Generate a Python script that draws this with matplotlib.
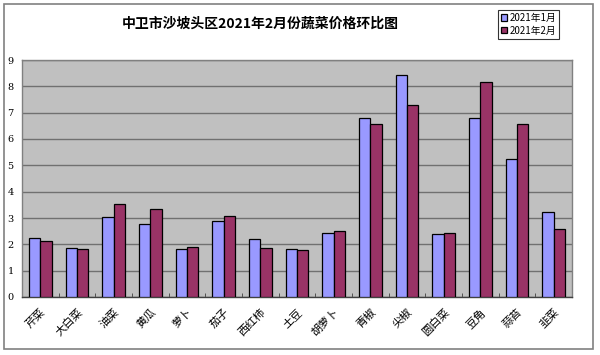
import numpy as np
import matplotlib.pyplot as plt
from matplotlib.patches import Rectangle

plt.rcParams['font.family'] = ['Noto Sans CJK SC', 'DejaVu Sans']

categories = ['芹菜', '大白菜', '油菜', '黄瓜', '萝卜', '茄子', '西红柿', '土豆',
              '胡萝卜', '青椒', '尖椒', '圆白菜', '豆角', '蒜苔', '韭菜']
jan = [2.24, 1.85, 3.05, 2.78, 1.83, 2.90, 2.20, 1.83, 2.42, 6.78, 8.42, 2.40, 6.80, 5.23, 3.22]
feb = [2.13, 1.83, 3.52, 3.35, 1.90, 3.08, 1.85, 1.78, 2.52, 6.58, 7.28, 2.43, 8.18, 6.58, 2.58]
yticks = list(range(10))

fig = plt.figure(figsize=(6, 3.55), dpi=100)
# outer frame of the chart
fig.patches.append(Rectangle((4 / 600, 1 - 349 / 355), 589 / 600, 345 / 355,
                             transform=fig.transFigure, fill=False,
                             edgecolor='#808080', linewidth=1.2, zorder=0))

ax = fig.add_axes([22 / 600, 1 - 297 / 355, 550 / 600, 237 / 355])
ax.set_facecolor('#C0C0C0')

x = np.arange(len(categories))
w = 0.31
ax.bar(x - w / 2, jan, w, color='#9999FF', edgecolor='black', linewidth=0.9, label='2021年1月', zorder=3)
ax.bar(x + w / 2, feb, w, color='#993366', edgecolor='black', linewidth=0.9, label='2021年2月', zorder=3)

ax.set_xlim(-0.5, len(categories) - 0.5)
ax.set_ylim(0, 9)
ax.set_yticks(yticks)
ax.set_yticklabels([str(t) for t in yticks], fontfamily='DejaVu Serif', fontsize=7)
ax.tick_params(axis='y', length=0, pad=6)
ax.yaxis.grid(True, color='#707070', linewidth=1.0, zorder=1)
ax.set_axisbelow(True)

ax.set_xticks(x)
ax.set_xticklabels(categories, rotation=45, ha='right', rotation_mode='anchor', fontsize=8)
ax.tick_params(axis='x', length=0, pad=7)
ax.set_xticks(np.arange(-0.5, len(categories), 1), minor=True)
ax.tick_params(axis='x', which='minor', direction='in', length=3, color='#404040')

for s in ax.spines.values():
    s.set_color('#808080')
    s.set_linewidth(1.0)
ax.spines['bottom'].set_color('#404040')

fig.text(260 / 600, 1 - 24 / 355, '中卫市沙坡头区2021年2月份蔬菜价格环比图',
         ha='center', va='center', fontsize=10, fontweight='bold')

leg = fig.legend(loc='upper left', bbox_to_anchor=(498 / 600, 1 - 10 / 355),
                 fontsize=7, frameon=True, fancybox=False, edgecolor='black',
                 handlelength=0.6, handleheight=0.6, handletextpad=0.3,
                 borderpad=0.3, labelspacing=0.3, borderaxespad=0)
leg.get_frame().set_linewidth(0.8)

fig.savefig('out.png', dpi=100)
